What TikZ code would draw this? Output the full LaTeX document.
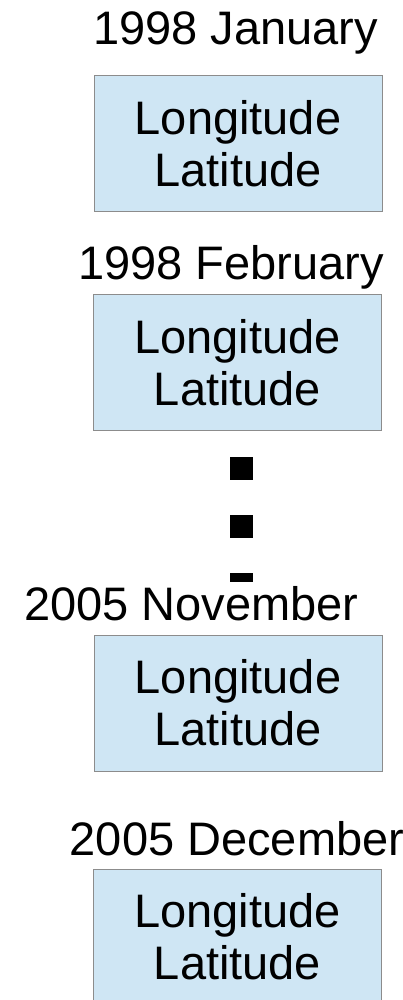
\documentclass[tikz,border=0pt]{standalone}
\usepackage{fontspec}
\setmainfont{Liberation Sans}
\definecolor{boxfill}{HTML}{CFE6F4}
\definecolor{boxline}{HTML}{8C8C8C}
\begin{document}
\begin{tikzpicture}[x=1pt,y=-1pt,
  lbl/.style={anchor=base,inner sep=0pt,font=\fontsize{47}{52}\selectfont},
  databox/.style={draw=boxline,line width=1pt,fill=boxfill,rectangle,
    minimum width=288pt,minimum height=136pt,inner sep=0pt,align=center,
    font=\fontsize{47}{52}\selectfont},
  sq/.style={fill=black,draw=none,rectangle,inner sep=0pt}]
\useasboundingbox (0,0) rectangle (403,1000);
\clip (0,0) rectangle (403,1000);
\node[lbl] (t1) at (235.5,45) {1998 January};
\node[databox] (b1) at (238,143.5) {Longitude\\Latitude};
\node[lbl] (t2) at (231,279) {1998 February};
\node[databox] (b2) at (237.5,362.5) {Longitude\\Latitude};
\node[sq,minimum width=22.7pt,minimum height=23pt] (d1) at (241.3,468.5) {};
\node[sq,minimum width=22.7pt,minimum height=22.7pt] (d2) at (241.3,526.3) {};
\node[sq,minimum width=22.7pt,minimum height=9pt] (d3) at (241.3,577.2) {};
\node[lbl] (t3) at (191.5,620) {2005 November};
\node[databox] (b3) at (238,703) {Longitude\\Latitude};
\node[lbl] (t4) at (237,855) {2005 December};
\node[databox] (b4) at (237.5,937) {Longitude\\Latitude};
\end{tikzpicture}
\end{document}
